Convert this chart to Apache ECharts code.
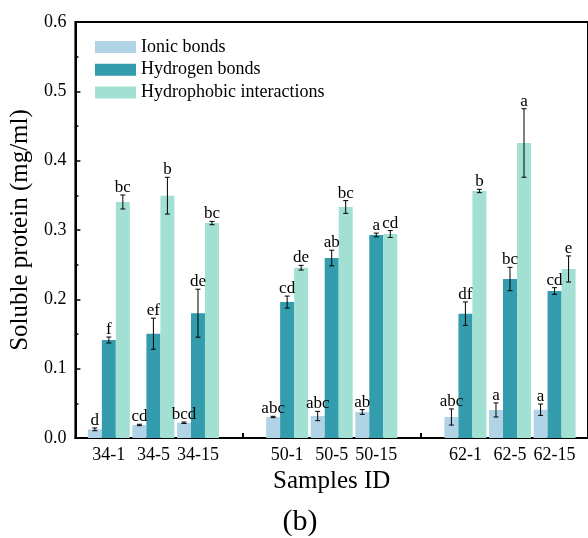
<!DOCTYPE html>
<html><head><meta charset="utf-8">
<script src="https://cdn.jsdelivr.net/npm/echarts@6/dist/echarts.min.js"></script>
<style>html,body{margin:0;padding:0;background:#fff}#c{width:588px;height:538px}</style>
</head><body><div id="c"></div>
<script>
const categories = ['34-1','34-5','34-15','','50-1','50-5','50-15','','62-1','62-5','62-15'];
const seriesNames = ['Ionic bonds','Hydrogen bonds','Hydrophobic interactions'];
const ionic        = [0.0125,0.0188,0.022,null,0.0303,0.0317,0.0375,null,0.0303,0.0404,0.0408];
const ionicErr     = [0.002,0.001,0.001,null,0.001,0.0067,0.0034,null,0.0116,0.0101,0.0082];
const ionicLetters = ['d','cd','bcd','','abc','abc','ab','','abc','a','a'];
const hydrogen        = [0.1413,0.1504,0.180,null,0.196,0.2596,0.2928,null,0.1793,0.2293,0.212];
const hydrogenErr     = [0.0043,0.0224,0.0346,null,0.0087,0.0113,0.0027,null,0.0169,0.0169,0.0048];
const hydrogenLetters = ['f','ef','de','','cd','ab','a','','df','bc','cd'];
const hydrophobic        = [0.3404,0.3495,0.310,null,0.2456,0.3332,0.2942,null,0.3563,0.4255,0.2438];
const hydrophobicErr     = [0.0101,0.0265,0.0024,null,0.0034,0.0092,0.005,null,0.0024,0.0494,0.0188];
const hydrophobicLetters = ['bc','b','bc','','de','bc','cd','','b','a','e'];
const colors = ['#b0d3e5','#339dad','#a3e0d4'];

const FONT = "'Liberation Serif','Times New Roman',serif";
const positions = categories.map((c,i)=>i+1);
const labelPositions = positions.filter((p,i)=>categories[i] !== '');

const groups = [
  {vals: ionic, errs: ionicErr, letters: ionicLetters, off: -14},
  {vals: hydrogen, errs: hydrogenErr, letters: hydrogenLetters, off: 0},
  {vals: hydrophobic, errs: hydrophobicErr, letters: hydrophobicLetters, off: 14}
];

const series = [];
groups.forEach((g, k) => {
  series.push({
    name: seriesNames[k], type: 'bar', barWidth: 14, barGap: '0%',
    itemStyle: {color: colors[k]},
    data: g.vals.map((v,i)=> v==null ? null : [i+1, v]).filter(d=>d)
  });
});
groups.forEach((g, k) => {
  series.push({
    type: 'custom', z: 5, clip: false,
    data: g.vals.map((v,i)=> v==null ? null : [i+1, v, g.errs[i], i]).filter(d=>d),
    renderItem: function(params, api){
      const x = api.value(0), v = api.value(1), e = api.value(2), idx = api.value(3);
      const top = api.coord([x, v+e]), bot = api.coord([x, v-e]);
      const px = top[0] + g.off;
      return {type:'group', children:[
        {type:'line', shape:{x1:px,y1:top[1],x2:px,y2:bot[1]}, style:{stroke:'#000',lineWidth:1}},
        {type:'line', shape:{x1:px-2.5,y1:top[1],x2:px+2.5,y2:top[1]}, style:{stroke:'#000',lineWidth:1}},
        {type:'line', shape:{x1:px-2.5,y1:bot[1],x2:px+2.5,y2:bot[1]}, style:{stroke:'#000',lineWidth:1}},
        {type:'text', style:{text:g.letters[idx], x:px, y:top[1]+1, align:'center', verticalAlign:'bottom', fontSize:17, fontFamily:FONT, fill:'#000'}}
      ]};
    }
  });
});

const chart = echarts.init(document.getElementById('c'));
chart.setOption({
  animation: false,
  grid: {left:73, top:22, right:-2.5, bottom:100, show:true, borderColor:'#000', borderWidth:2, backgroundColor:'transparent'},
  legend: {
    data: seriesNames, orient:'vertical', left:90, top:33, itemWidth:41, itemHeight:12, itemGap:4.7, icon:'rect',
    textStyle:{fontFamily:FONT, fontSize:18, color:'#000'}
  },
  xAxis: {
    type:'value', min:0.25, max:11.75,
    name:'Samples ID', nameLocation:'middle', nameGap:22,
    nameTextStyle:{fontFamily:FONT, fontSize:25, color:'#000'},
    axisLine:{show:true, onZero:false, lineStyle:{color:'#000', width:2}},
    axisTick:{show:true, inside:true, length:5, lineStyle:{color:'#000', width:2}, customValues: positions},
    axisLabel:{customValues: labelPositions, formatter: v => categories[Math.round(v)-1], fontFamily:FONT, fontSize:18, color:'#000', margin:8},
    splitLine:{show:false}
  },
  yAxis: {
    type:'value', min:0, max:0.6, interval:0.1,
    name:'Soluble protein (mg/ml)', nameLocation:'middle', nameGap:38,
    nameTextStyle:{fontFamily:FONT, fontSize:25, color:'#000'},
    axisLine:{show:true, lineStyle:{color:'#000', width:2}},
    axisTick:{show:true, inside:true, length:5, lineStyle:{color:'#000', width:1.5}},
    minorTick:{show:true, splitNumber:2, length:3, lineStyle:{color:'#000', width:1.5}},
    axisLabel:{formatter: v => v.toFixed(1), fontFamily:FONT, fontSize:18, color:'#000', margin:9},
    splitLine:{show:false}, minorSplitLine:{show:false}
  },
  graphic: [{type:'text', x:300, y:522, style:{text:'(b)', align:'center', verticalAlign:'middle', fontFamily:FONT, fontSize:30, fill:'#000'}}],
  series: series
});
</script></body></html>
